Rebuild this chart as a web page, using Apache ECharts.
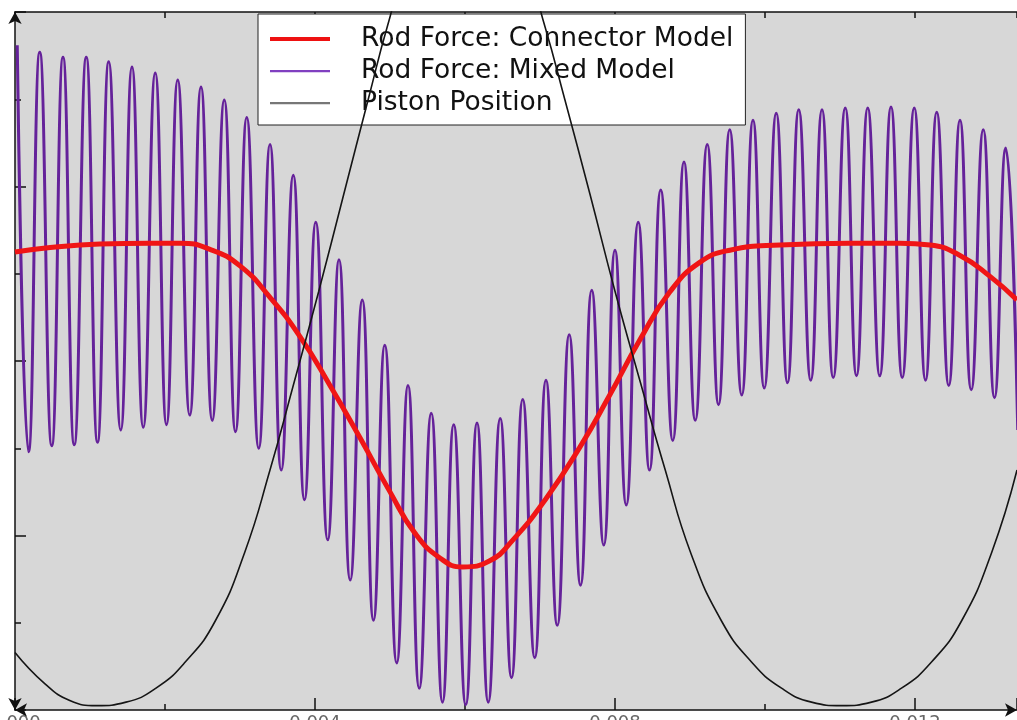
<!DOCTYPE html>
<html>
<head>
<meta charset="utf-8">
<script src="https://cdn.jsdelivr.net/npm/echarts@6/dist/echarts.min.js"></script>
<style>
html,body{margin:0;padding:0;background:#fff;}
#chart{width:1017px;height:720px;}
</style>
</head>
<body>
<div id="chart"></div>
<script>
// time axis in milliseconds
const xTickLabels = ['0.000', '0.004', '0.008', '0.012'];

// Rod Force: Mixed Model (peaks and troughs of the oscillation)
const mixedT = [0.03, 0.18, 0.33, 0.49, 0.64, 0.79, 0.95, 1.10, 1.25, 1.41, 1.56, 1.71, 1.87, 2.02, 2.17, 2.33, 2.48, 2.63, 2.79, 2.94, 3.09, 3.25, 3.40, 3.55, 3.71, 3.86, 4.01, 4.17, 4.32, 4.47, 4.63, 4.78, 4.93, 5.09, 5.24, 5.39, 5.55, 5.70, 5.85, 6.01, 6.16, 6.31, 6.47, 6.62, 6.77, 6.93, 7.08, 7.23, 7.39, 7.54, 7.69, 7.85, 8.00, 8.15, 8.31, 8.46, 8.61, 8.77, 8.92, 9.07, 9.23, 9.38, 9.53, 9.69, 9.84, 9.99, 10.15, 10.30, 10.45, 10.61, 10.76, 10.91, 11.07, 11.22, 11.37, 11.53, 11.68, 11.83, 11.99, 12.14, 12.29, 12.45, 12.60, 12.75, 12.91, 13.06, 13.21, 13.37];
const mixedF = [
  7.62, 2.96, 7.54, 3.03, 7.48, 3.04, 7.48, 3.07, 7.43, 3.21,
  7.37, 3.24, 7.30, 3.27, 7.22, 3.38, 7.14, 3.32, 6.99, 3.19,
  6.79, 3.00, 6.48, 2.75, 6.13, 2.41, 5.59, 1.95, 5.16, 1.49,
  4.70, 1.03, 4.18, 0.54, 3.72, 0.25, 3.40, 0.09, 3.27, 0.06,
  3.29, 0.09, 3.34, 0.37, 3.56, 0.60, 3.78, 0.97, 4.30, 1.43,
  4.81, 1.89, 5.27, 2.35, 5.59, 2.75, 5.96, 3.09, 6.28, 3.32,
  6.48, 3.50, 6.65, 3.61, 6.76, 3.69, 6.84, 3.75, 6.88, 3.78,
  6.88, 3.81, 6.90, 3.83, 6.90, 3.83, 6.91, 3.81, 6.90, 3.78,
  6.85, 3.72, 6.76, 3.67, 6.65, 3.58, 6.44, 3.21
];

// Rod Force: Connector Model
const connT = [0, 0.47, 1.13, 1.80, 2.20, 2.60, 3.00, 3.40, 3.80, 4.20, 4.60, 5.00, 5.33, 5.67, 5.97, 6.33, 6.64, 7.07, 7.53, 7.93, 8.33, 8.73, 9.13, 9.53, 10.20, 11.13, 11.80, 12.20, 12.60, 13.00, 13.36];
const connF = [5.25, 5.30, 5.34, 5.35, 5.35, 5.28, 5.09, 4.73, 4.28, 3.72, 3.12, 2.50, 2.03, 1.74, 1.64, 1.71, 1.95, 2.41, 3.01, 3.61, 4.24, 4.79, 5.13, 5.27, 5.33, 5.35, 5.35, 5.33, 5.21, 4.97, 4.70];

// Piston Position
const pistT = [0, 0.40, 0.73, 1.09, 1.48, 1.88, 2.27, 2.67, 3.06, 3.40, 3.72, 4.05, 4.38, 4.71, 4.97, 5.23, 5.62, 6.01, 6.41, 6.80, 7.06, 7.33, 7.67, 8.00, 8.34, 8.67, 9.01, 9.42, 9.82, 10.22, 10.62, 11.02, 11.42, 11.82, 12.22, 12.62, 13.02, 13.36];
const pistP = [0.66, 0.30, 0.11, 0.05, 0.09, 0.25, 0.55, 1.02, 1.80, 2.75, 3.75, 4.80, 5.90, 7.00, 7.85, 8.55, 9.10, 9.25, 9.10, 8.55, 7.85, 7.00, 5.90, 4.80, 3.75, 2.75, 1.80, 1.02, 0.55, 0.25, 0.09, 0.05, 0.09, 0.25, 0.55, 1.02, 1.80, 2.75];

const seriesNames = ['Rod Force: Connector Model', 'Rod Force: Mixed Model', 'Piston Position'];

function zip(a, b) { return a.map((v, i) => [v, b[i]]); }

const chart = echarts.init(document.getElementById('chart'), null, {renderer: 'canvas'});
const X_MIN = 0, X_MAX = 13.36;
const axisColor = '#111';
// legend icons: thin bars centred in a 60x14 box
const iconThick = 'path://M0,0L60,0Z M0,5L60,5L60,9L0,9Z M0,14L60,14Z';
const iconThin = 'path://M0,0L60,0Z M0,6L60,6L60,8.2L0,8.2Z M0,14L60,14Z';
const option = {
  animation: false,
  backgroundColor: '#ffffff',
  grid: {left: 15, top: 12, right: 0, bottom: 10, outerBoundsMode: 'none', containLabel: false,
         show: true, backgroundColor: '#d7d7d7', borderWidth: 0},
  legend: {
    data: [
      {name: seriesNames[0], icon: iconThick, itemStyle: {color: '#ee1111', borderWidth: 0}},
      {name: seriesNames[1], icon: iconThin, itemStyle: {color: '#8040c0', borderWidth: 0}},
      {name: seriesNames[2], icon: iconThin, itemStyle: {color: '#777777', borderWidth: 0}}
    ],
    orient: 'vertical',
    left: 258, top: 14,
    backgroundColor: '#ffffff',
    borderColor: '#222', borderWidth: 1, borderRadius: 0,
    padding: [10, 12, 7, 12],
    itemGap: 2,
    itemWidth: 60, itemHeight: 14,
    textStyle: {fontFamily: 'DejaVu Sans', fontSize: 26.5, color: '#111', lineHeight: 30, padding: [0, 0, 0, 26]}
  },
  xAxis: [
    {type: 'value', min: X_MIN, max: X_MAX, interval: 4, position: 'bottom',
     axisLine: {show: true, lineStyle: {color: axisColor, width: 1.5}, symbol: ['arrow', 'arrow'], symbolSize: [10, 12]},
     axisTick: {show: true, inside: true, length: 12, lineStyle: {color: axisColor, width: 1.5}},
     axisLabel: {show: true, margin: 4, fontFamily: 'DejaVu Sans', fontSize: 18, color: '#666',
       formatter: v => { const i = Math.round(v / 4); return Math.abs(v - i * 4) < 1e-6 ? (xTickLabels[i] || '') : ''; }},
     splitLine: {show: false}},
    {type: 'value', min: X_MIN, max: X_MAX, interval: 2, position: 'bottom',
     axisLine: {show: false}, axisTick: {show: true, inside: true, length: 6, lineStyle: {color: axisColor, width: 1.5}},
     axisLabel: {show: false}, splitLine: {show: false}},
    {type: 'value', min: X_MIN, max: X_MAX, interval: 2, position: 'top',
     axisLine: {show: true, lineStyle: {color: axisColor, width: 1.5}},
     axisTick: {show: true, inside: true, length: 6, lineStyle: {color: axisColor, width: 1.5}},
     axisLabel: {show: false}, splitLine: {show: false}}
  ],
  yAxis: [
    {type: 'value', min: 0, max: 8, interval: 2, position: 'left',
     axisLine: {show: true, lineStyle: {color: axisColor, width: 1.5}, symbol: ['arrow', 'arrow'], symbolSize: [10, 12]},
     axisTick: {show: true, inside: true, length: 11, lineStyle: {color: axisColor, width: 1.5}},
     axisLabel: {show: false}, splitLine: {show: false}},
    {type: 'value', min: 0, max: 8, interval: 1, position: 'left',
     axisLine: {show: false},
     axisTick: {show: true, inside: true, length: 6, lineStyle: {color: axisColor, width: 1.5}},
     axisLabel: {show: false}, splitLine: {show: false}}
  ],
  series: [
    {name: seriesNames[1], type: 'line', data: zip(mixedT, mixedF), smooth: 0.5, symbol: 'none',
     lineStyle: {color: '#65229a', width: 3}, itemStyle: {color: '#65229a'}, z: 2},
    {name: seriesNames[0], type: 'line', data: zip(connT, connF), smooth: 0.5, symbol: 'none',
     lineStyle: {color: '#f01515', width: 5}, itemStyle: {color: '#f01515'}, z: 3},
    {name: seriesNames[2], type: 'line', data: zip(pistT, pistP), smooth: 0.5, symbol: 'none',
     lineStyle: {color: '#151515', width: 1.6}, itemStyle: {color: '#151515'}, z: 4}
  ]
};
chart.setOption(option);
</script>
</body>
</html>
